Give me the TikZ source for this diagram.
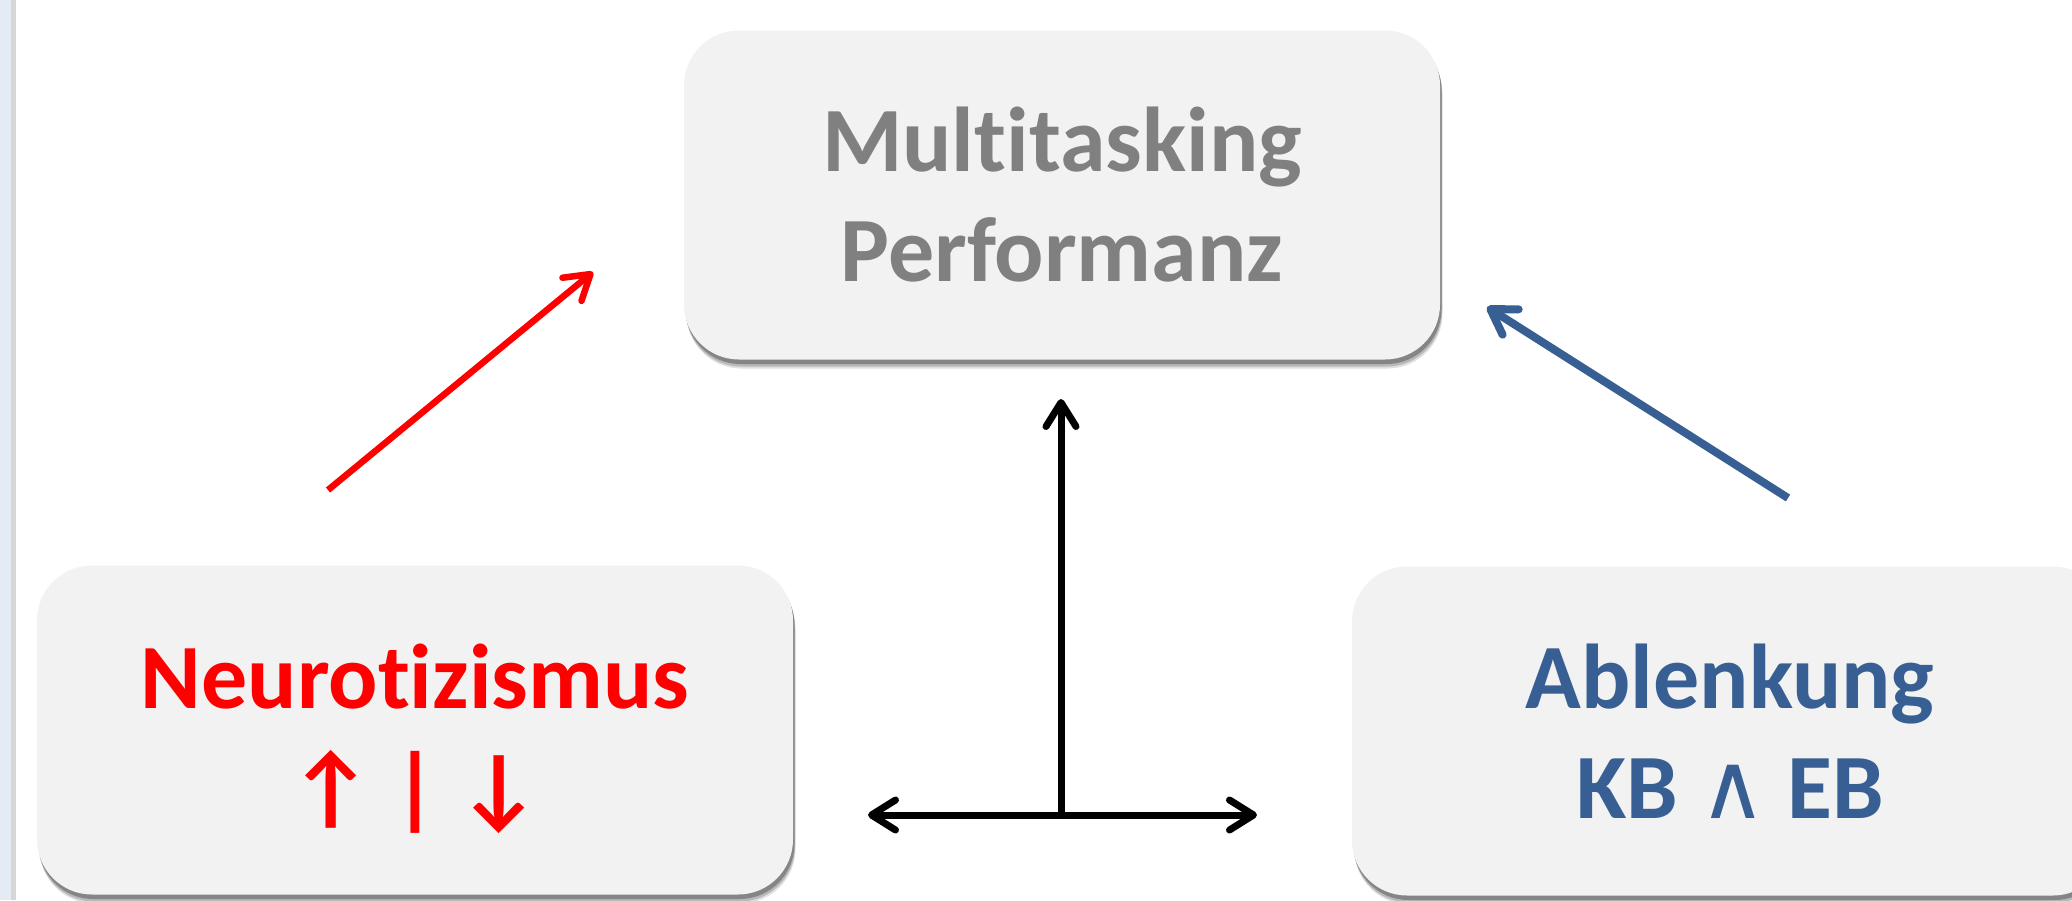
\documentclass[tikz,border=0pt]{standalone}
\usepackage{fontspec}
\setmainfont{Carlito}[RawFeature={-liga}]
\newfontfamily\djv{DejaVu Sans}
\usetikzlibrary{arrows.meta,shadows}
\definecolor{boxfill}{HTML}{F2F2F2}
\definecolor{txtgray}{HTML}{808080}
\definecolor{myblue}{HTML}{375F93}
\definecolor{myred}{HTML}{FF0000}
\definecolor{stripblue}{HTML}{E4EBF5}
\definecolor{stripgray}{HTML}{D6D6D6}
\begin{document}
\begin{tikzpicture}[x=1pt,y=-1pt,
  pbox/.style={rounded corners=55pt, fill=boxfill, minimum width=756pt, minimum height=329pt,
    inner sep=0pt, align=center, font=\bfseries\fontsize{92}{110}\selectfont,
    drop shadow={shadow xshift=2.5pt, shadow yshift=-9pt, fill=black!12, opacity=1},
    drop shadow={shadow xshift=2pt, shadow yshift=-7pt, fill=black!28, opacity=1},
    drop shadow={shadow xshift=1.5pt, shadow yshift=-4.5pt, fill=black!48, opacity=1}},
  conn/.style={line cap=round, -{Straight Barb[length=24pt,width=30pt,round]}},
  conn2/.style={line cap=round, {Straight Barb[length=24pt,width=30pt,round]}-{Straight Barb[length=24pt,width=30pt,round]}}
]
\useasboundingbox (0,0) rectangle (2072,900);
\fill[white] (0,0) rectangle (2072,900);
\fill[stripblue] (0,0) rectangle (11,900);
\fill[stripgray] (11,0) rectangle (16,900);

\node[pbox, text=myred] (neuro) at (415,730) {\raisebox{-11pt}[\height][\depth]{\begin{tabular}{@{}c@{}}Neurotizismus\\↑ | ↓\end{tabular}}};
\node[pbox, text=txtgray] (perf) at (1062,195) {Multitasking\\Performanz};
\node[pbox, text=myblue] (abl) at (1730,731) {Ablenkung\\KB {\djv\mdseries ∧} EB};

\coordinate (rs) at (328,490);
\coordinate (re) at (593,272);
\coordinate (bs) at (1788,498);
\coordinate (be) at (1487,307);
\coordinate (vs) at (1061,815);
\coordinate (ve) at (1061,399);
\coordinate (hl) at (868,815);
\coordinate (hr) at (1257,815);

\draw[conn, myred, line width=6.5pt, line cap=butt] (rs) -- (re);
\draw[conn, myblue, line width=8pt, line cap=butt] (bs) -- (be);
\draw[conn, black, line width=7pt] (vs) -- (ve);
\draw[conn2, black, line width=7pt] (hl) -- (hr);
\end{tikzpicture}
\end{document}
